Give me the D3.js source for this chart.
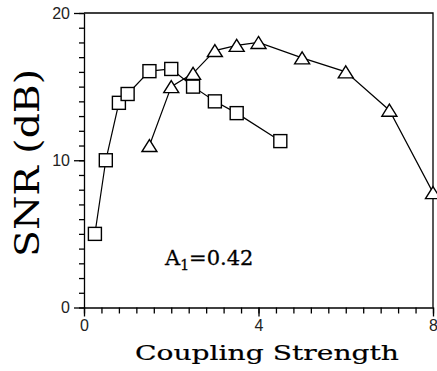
<!DOCTYPE html>
<html>
<head>
<meta charset="utf-8">
<script src="https://cdn.jsdelivr.net/npm/d3@7"></script>
<style>
  body { margin: 0; background: #fff; }
  svg { display: block; }
  .tick text { font-family: "Liberation Sans", Arial, sans-serif; font-size: 16px; fill: #222; }
  .ttl { font-family: "DejaVu Serif", serif; fill: #000; }
</style>
</head>
<body>
<svg id="chart"></svg>
<script>
// data
var squareX = [0.25, 0.5, 0.8, 1.0, 1.5, 2.0, 2.5, 3.0, 3.5, 4.5];
var squareY = [5.0, 10.0, 13.9, 14.5, 16.05, 16.2, 15.0, 14.0, 13.2, 11.3];
var triX = [1.5, 2.0, 2.5, 3.0, 3.5, 4.0, 5.0, 6.0, 7.0, 8.0];
var triY = [11.0, 15.0, 15.9, 17.45, 17.8, 18.0, 16.95, 16.0, 13.4, 7.8];
var xTicks = [0, 4, 8];
var yTicks = [0, 10, 20];

(function () {
    var width = 437, height = 371;
    var svg = d3.select('#chart').attr('width', width).attr('height', height);

    var x = d3.scaleLinear().domain([0, 8]).range([84, 433]);
    var y = d3.scaleLinear().domain([0, 20]).range([307.5, 13]);

    // frame (top + right)
    svg.append('path')
        .attr('d', 'M' + x(0) + ',' + y(20) + 'H' + x(8) + 'V' + y(0))
        .attr('fill', 'none').attr('stroke', '#000').attr('stroke-width', 1.3);

    // minor ticks
    svg.append('g').attr('transform', 'translate(0,' + y(0) + ')')
        .call(d3.axisBottom(x).tickValues(d3.range(0, 8.01, 0.4)).tickSize(6).tickSizeOuter(0).tickFormat(''))
        .call(g => g.select('.domain').remove());
    svg.append('g').attr('transform', 'translate(' + x(0) + ',0)')
        .call(d3.axisLeft(y).tickValues(d3.range(0, 21, 1)).tickSize(5).tickSizeOuter(0).tickFormat(''))
        .call(g => g.select('.domain').remove());

    // major ticks + labels
    svg.append('g').attr('transform', 'translate(0,' + y(0) + ')')
        .call(d3.axisBottom(x).tickValues(xTicks).tickSize(9).tickPadding(3).tickSizeOuter(0));
    svg.append('g').attr('transform', 'translate(' + x(0) + ',0)')
        .call(d3.axisLeft(y).tickValues(yTicks).tickSize(10).tickPadding(4).tickSizeOuter(0));
    svg.selectAll('.domain, .tick line').attr('stroke', '#000').attr('stroke-width', 1.3);

    // series lines
    var line = d3.line().x(d => x(d[0])).y(d => y(d[1]));
    var sq = d3.zip(squareX, squareY);
    var tr = d3.zip(triX, triY);
    svg.append('path').datum(sq).attr('d', line)
        .attr('fill', 'none').attr('stroke', '#000').attr('stroke-width', 1.2);
    svg.append('path').datum(tr).attr('d', line)
        .attr('fill', 'none').attr('stroke', '#000').attr('stroke-width', 1.2);

    // markers
    var s = 13;
    svg.selectAll('.sq').data(sq).enter().append('rect').attr('class', 'sq')
        .attr('x', d => x(d[0]) - s / 2).attr('y', d => y(d[1]) - s / 2)
        .attr('width', s).attr('height', s)
        .attr('fill', '#fff').attr('stroke', '#000').attr('stroke-width', 1.4);
    svg.selectAll('.tri').data(tr).enter().append('path').attr('class', 'tri')
        .attr('d', d => {
            var cx = x(d[0]), cy = y(d[1]);
            return 'M' + cx + ',' + (cy - 6) + 'L' + (cx + 7.5) + ',' + (cy + 6) + 'L' + (cx - 7.5) + ',' + (cy + 6) + 'Z';
        })
        .attr('fill', '#fff').attr('stroke', '#000').attr('stroke-width', 1.4);

    // titles
    svg.append('text').attr('class', 'ttl')
        .attr('transform', 'translate(39,163) rotate(-90)')
        .attr('text-anchor', 'middle')
        .attr('font-size', 33)
        .attr('textLength', 188).attr('lengthAdjust', 'spacingAndGlyphs')
        .text('SNR (dB)');
    svg.append('text').attr('class', 'ttl')
        .attr('x', 267).attr('y', 360)
        .attr('text-anchor', 'middle')
        .attr('font-size', 21)
        .attr('stroke', '#000').attr('stroke-width', 0.2)
        .attr('textLength', 264).attr('lengthAdjust', 'spacingAndGlyphs')
        .text('Coupling Strength');

    var a = svg.append('text').attr('class', 'ttl')
        .attr('x', 165).attr('y', 265)
        .attr('font-size', 21)
        .attr('stroke', '#000').attr('stroke-width', 0.3);
    a.append('tspan').text('A');
    a.append('tspan').attr('font-size', 14).attr('dy', 5).text('1');
    a.append('tspan').attr('dy', -5).text('=0.42');
})();
</script>
</body>
</html>
